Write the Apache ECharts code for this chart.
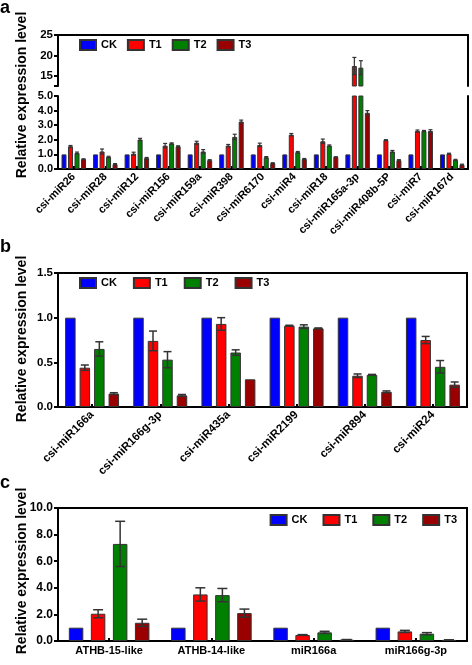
<!DOCTYPE html>
<html><head><meta charset="utf-8">
<script src="https://cdn.jsdelivr.net/npm/echarts@6/dist/echarts.min.js"></script>
<style>html,body{margin:0;padding:0;background:#fff}#c{width:472px;height:665px}</style>
</head><body><div id="c"></div>
<script>
// ---- data ----
const names = ['CK', 'T1', 'T2', 'T3'];

const catsA = ['csi-miR26','csi-miR28','csi-miR12','csi-miR156','csi-miR159a','csi-miR398','csi-miR6170','csi-miR4','csi-miR18','csi-miR165a-3p','csi-miR408b-5P','csi-miR7','csi-miR167d'];
const ckA = [1,1,1,1,1,1,1,1,1,1,1,1,1];
const t1A = [1.55,1.2,1.05,1.6,1.8,1.6,1.65,2.35,1.9,17.4,1.98,2.6,1.05];
const t2A = [1.1,0.82,2.02,1.75,1.2,2.2,0.8,1.15,1.6,17.0,1.2,2.6,0.62];
const t3A = [0.67,0.33,0.74,1.55,0.6,3.25,0.4,0.68,0.82,3.85,0.6,2.6,0.3];
const errCkA = [0,0,0,0,0,0,0,0,0,0,0,0,0];
const errT1A = [0.06,0.17,0.1,0.15,0.1,0.08,0.12,0.08,0.15,2.1,0.03,0.07,0.03];
const errT2A = [0.06,0.05,0.08,0.04,0.13,0.18,0.05,0.05,0.05,1.7,0.07,0.04,0.04];
const errT3A = [0.03,0.04,0.05,0.04,0.04,0.1,0.03,0.04,0.02,0.15,0.04,0.09,0.03];

const catsB = ['csi-miR166a','csi-miR166g-3p','csi-miR435a','csi-miR2199','csi-miR894','csi-miR24'];
const ckB = [1,1,1,1,1,1];
const t1B = [0.44,0.74,0.93,0.91,0.35,0.75];
const t2B = [0.65,0.53,0.61,0.90,0.36,0.45];
const t3B = [0.15,0.13,0.31,0.88,0.17,0.25];
const errCkB = [0,0,0,0,0,0];
const errT1B = [0.03,0.11,0.07,0.005,0.02,0.04];
const errT2B = [0.08,0.09,0.03,0.02,0.005,0.07];
const errT3B = [0.01,0.01,0,0.005,0.01,0.03];

const catsC = ['ATHB-15-like','ATHB-14-like','miR166a','miR166g-3p'];
const ckC = [1,1,1,1];
const t1C = [2.05,3.5,0.45,0.72];
const t2C = [7.3,3.45,0.65,0.55];
const t3C = [1.37,2.1,0.1,0.08];
const errCkC = [0,0,0,0];
const errT1C = [0.3,0.5,0.03,0.08];
const errT2C = [1.7,0.5,0.08,0.08];
const errT3C = [0.27,0.3,0.01,0.01];

const ticksAUpper = [15, 20, 25];
const ticksALower = [0, 1, 2, 3, 4, 5];
const yTitle = 'Relative expression level';

// ---- style ----
const FONT = '"Liberation Sans", Arial, sans-serif';
const colors = ['#0000ff', '#ff0000', '#008000', '#9a0000'];
const BORDER = '#333';

const chart = echarts.init(document.getElementById('c'), null, {renderer: 'canvas'});

function catAxis(gridIndex, data, labelOpt) {
  return {
    type: 'category', gridIndex, data,
    axisLine: {show: true, onZero: false, lineStyle: {color: '#000', width: 2}},
    axisTick: {show: true, inside: true, alignWithLabel: true, length: 3, lineStyle: {color: '#000', width: 2}},
    axisLabel: Object.assign({interval: 0, color: '#000', fontWeight: 'bold', fontFamily: FONT}, labelOpt),
    splitLine: {show: false}
  };
}
function valAxis(gridIndex, min, max, interval, fontSize, extra) {
  return Object.assign({
    type: 'value', gridIndex, min, max, interval,
    axisLine: {show: true, onZero: false, lineStyle: {color: '#000', width: 2}},
    axisTick: {show: true, length: 4, lineStyle: {color: '#000', width: 2}},
    axisLabel: {color: '#000', fontWeight: 'bold', fontSize, fontFamily: FONT, margin: 5,
      formatter: v => v.toFixed(1)},
    splitLine: {show: false}
  }, extra || {});
}
function borderAxis(gridIndex, min, max) {
  return {type: 'value', gridIndex, min, max, position: 'right',
    axisLine: {show: true, onZero: false, lineStyle: {color: '#000', width: 2}},
    axisTick: {show: false}, axisLabel: {show: false}, splitLine: {show: false}};
}

function barSeries(xi, yi, vals, k, barW, gap, filter) {
  return {
    type: 'bar', name: names[k], xAxisIndex: xi, yAxisIndex: yi,
    data: vals.map(v => filter(v) ? v : null),
    barWidth: barW, barGap: (gap * 100) + '%', clip: true,
    itemStyle: {color: colors[k], borderColor: BORDER, borderWidth: 1},
    emphasis: {disabled: true}, animation: false
  };
}
function errSeries(xi, yi, vals, errs, k, barW, gap, capW, lw, lo, hi) {
  return {
    type: 'custom', name: 'err' + k, xAxisIndex: xi, yAxisIndex: yi, z: 5,
    data: vals.map((v, i) => [i, v, errs[i]]),
    animation: false, silent: true,
    renderItem: function (params, api) {
      const i = api.value(0), v = api.value(1), e = api.value(2);
      if (!e || v < lo || v > hi) return null;
      const off = (k - 1.5) * barW * (1 + gap);
      const top = api.coord([i, v + e]);
      const bot = api.coord([i, v - e]);
      const x = top[0] + off;
      const st = {stroke: '#333', lineWidth: lw};
      return {type: 'group', children: [
        {type: 'line', shape: {x1: x, y1: top[1], x2: x, y2: bot[1]}, style: st},
        {type: 'line', shape: {x1: x - capW / 2, y1: top[1], x2: x + capW / 2, y2: top[1]}, style: st},
        {type: 'line', shape: {x1: x - capW / 2, y1: bot[1], x2: x + capW / 2, y2: bot[1]}, style: st}
      ]};
    }
  };
}

const series = [];
const valsA = [ckA, t1A, t2A, t3A], errsA = [errCkA, errT1A, errT2A, errT3A];
const valsB = [ckB, t1B, t2B, t3B], errsB = [errCkB, errT1B, errT2B, errT3B];
const valsC = [ckC, t1C, t2C, t3C], errsC = [errCkC, errT1C, errT2C, errT3C];
const wA = 5, gA = 0.3, wB = 10.5, gB = 0.38, wC = 14.5, gC = 0.52;
for (let k = 0; k < 4; k++) {
  series.push(barSeries(0, 0, valsA[k], k, wA, gA, v => v >= 12.5));
  series.push(barSeries(1, 1, valsA[k], k, wA, gA, v => true));
  series.push(barSeries(2, 2, valsB[k], k, wB, gB, v => true));
  series.push(barSeries(3, 3, valsC[k], k, wC, gC, v => true));
}
for (let k = 1; k < 4; k++) {
  series.push(errSeries(0, 0, valsA[k], errsA[k], k, wA, gA, 4, 1.2, 12.5, 25));
  series.push(errSeries(1, 1, valsA[k], errsA[k], k, wA, gA, 4, 1.2, 0, 5));
  series.push(errSeries(2, 2, valsB[k], errsB[k], k, wB, gB, 8, 1.5, 0, 1.5));
  series.push(errSeries(3, 3, valsC[k], errsC[k], k, wC, gC, 10, 1.5, 0, 10));
}

const legendText = {fontWeight: 'bold', fontSize: 11, color: '#000', fontFamily: FONT};
function legend(pos, gap) {
  return Object.assign({data: names, itemWidth: 16, itemHeight: 10, itemGap: gap, padding: 0,
    textStyle: legendText, selectedMode: false, icon: 'rect'}, pos);
}

const option = {
  animation: false,
  backgroundColor: '#fff',
  grid: [
    {left: 58, right: 4, top: 35, height: 51},
    {left: 58, right: 4, top: 96, height: 73},
    {left: 58, right: 5, top: 273, height: 134, show: true, borderColor: '#000', borderWidth: 2},
    {left: 58, right: 5, top: 508, height: 133, show: true, borderColor: '#000', borderWidth: 2}
  ],
  xAxis: [
    {type: 'category', gridIndex: 0, data: catsA, position: 'top',
      axisLine: {show: true, onZero: false, lineStyle: {color: '#000', width: 2}},
      axisTick: {show: false}, axisLabel: {show: false}},
    catAxis(1, catsA, {rotate: 45, fontSize: 11, margin: 6}),
    catAxis(2, catsB, {rotate: 45, fontSize: 11.5, margin: 6}),
    catAxis(3, catsC, {rotate: 0, fontSize: 11, margin: 4})
  ],
  yAxis: [
    valAxis(0, 12.5, 25, 5, 11.5, {
      axisLabel: {color: '#000', fontWeight: 'bold', fontSize: 11.5, fontFamily: FONT, margin: 5,
        customValues: ticksAUpper, formatter: v => String(v)},
      axisTick: {show: true, length: 4, lineStyle: {color: '#000', width: 2}, customValues: [12.5].concat(ticksAUpper)}
    }),
    valAxis(1, 0, 5, 1, 11, {
      axisLabel: {color: '#000', fontWeight: 'bold', fontSize: 11, fontFamily: FONT, margin: 5,
        customValues: ticksALower, formatter: v => v.toFixed(1)}
    }),
    valAxis(2, 0, 1.5, 0.5, 11.5),
    valAxis(3, 0, 10, 2, 12),
    borderAxis(0, 12.5, 25),
    borderAxis(1, 0, 5)
  ],
  legend: [
    legend({left: 79, top: 39}, 10),
    legend({left: 79, top: 277}, 16),
    legend({right: 15, top: 514}, 15)
  ],
  graphic: [
    {type: 'text', x: 22, y: 95, rotation: Math.PI / 2,
      style: {text: yTitle, font: 'bold 14px ' + FONT, fill: '#000', textAlign: 'center', textVerticalAlign: 'middle'}},
    {type: 'text', x: 22, y: 339, rotation: Math.PI / 2,
      style: {text: yTitle, font: 'bold 14px ' + FONT, fill: '#000', textAlign: 'center', textVerticalAlign: 'middle'}},
    {type: 'text', x: 22, y: 571, rotation: Math.PI / 2,
      style: {text: yTitle, font: 'bold 14px ' + FONT, fill: '#000', textAlign: 'center', textVerticalAlign: 'middle'}},
    {type: 'text', x: 0, y: 17, style: {text: 'a', font: 'bold 18px ' + FONT, fill: '#000', textVerticalAlign: 'bottom'}},
    {type: 'text', x: 0, y: 256, style: {text: 'b', font: 'bold 18px ' + FONT, fill: '#000', textVerticalAlign: 'bottom'}},
    {type: 'text', x: 0, y: 492, style: {text: 'c', font: 'bold 18px ' + FONT, fill: '#000', textVerticalAlign: 'bottom'}}
  ],
  series
};
chart.setOption(option);
</script>
</body></html>
